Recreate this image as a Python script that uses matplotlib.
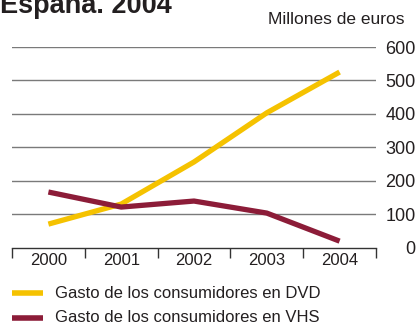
import matplotlib
matplotlib.use("Agg")
import matplotlib.pyplot as plt
from matplotlib.ticker import FixedLocator

plt.rcParams['font.family'] = ['Liberation Sans', 'DejaVu Sans']

years = ['2000', '2001', '2002', '2003', '2004']
dvd = [70, 130, 256, 403, 525]
vhs = [166, 121, 139, 103, 19]
yticks = [0, 100, 200, 300, 400, 500, 600]

W, H = 416, 322
fig = plt.figure(figsize=(W / 100, H / 100), dpi=100)
ax = fig.add_axes([12 / W, (H - 247.5) / H, (376 - 12) / W, (247.5 - 47) / H])

txt = '#231f20'
yellow = '#f5c200'
maroon = '#8c1c38'

x = list(range(len(years)))
ax.plot(x, dvd, color=yellow, lw=3.8, solid_capstyle='butt', zorder=3)
ax.plot(x, vhs, color=maroon, lw=3.8, solid_capstyle='butt', zorder=3)

ax.set_xlim(-0.5, 4.5)
ax.set_ylim(0, 600)

for v in yticks[1:]:
    ax.axhline(v, color='#7a7a7a', lw=1.0, zorder=1)

for s in ['top', 'left', 'right']:
    ax.spines[s].set_visible(False)
ax.spines['bottom'].set_color('#333333')
ax.spines['bottom'].set_linewidth(1.0)

ax.xaxis.set_major_locator(FixedLocator([i - 0.5 for i in range(len(years) + 1)]))
ax.xaxis.set_minor_locator(FixedLocator(x))
ax.set_xticklabels([''] * (len(years) + 1))
ax.set_xticklabels(years, minor=True)
ax.tick_params(axis='x', which='major', direction='out', length=7.5, width=1.0, color='#333333')
ax.tick_params(axis='x', which='minor', length=0, pad=4, labelsize=12, labelcolor=txt)

ax.yaxis.tick_right()
ax.set_yticks(yticks)
ax.set_yticklabels([str(v) for v in yticks])
ax.tick_params(axis='y', length=0, pad=28.5, labelsize=13, labelcolor=txt)
for lab in ax.get_yticklabels():
    lab.set_horizontalalignment('right')

fig.text(0 / W, 1 - 13 / H, 'España. 2004', fontsize=19.5, fontweight='bold', color=txt,
         ha='left', va='baseline')
fig.text(405 / W, 1 - 24 / H, 'Millones de euros', fontsize=12.5, color=txt,
         ha='right', va='baseline')

# legend
for yy, col, lab in [(293, yellow, 'Gasto de los consumidores en DVD'),
                     (318, maroon, 'Gasto de los consumidores en VHS')]:
    fig.add_artist(plt.Line2D([12 / W, 43 / W], [1 - yy / H, 1 - yy / H], color=col, lw=4,
                              solid_capstyle='butt', transform=fig.transFigure))
    fig.text(55 / W, 1 - yy / H, lab, fontsize=12, color=txt, ha='left', va='center')

fig.savefig('out.png', dpi=100)
